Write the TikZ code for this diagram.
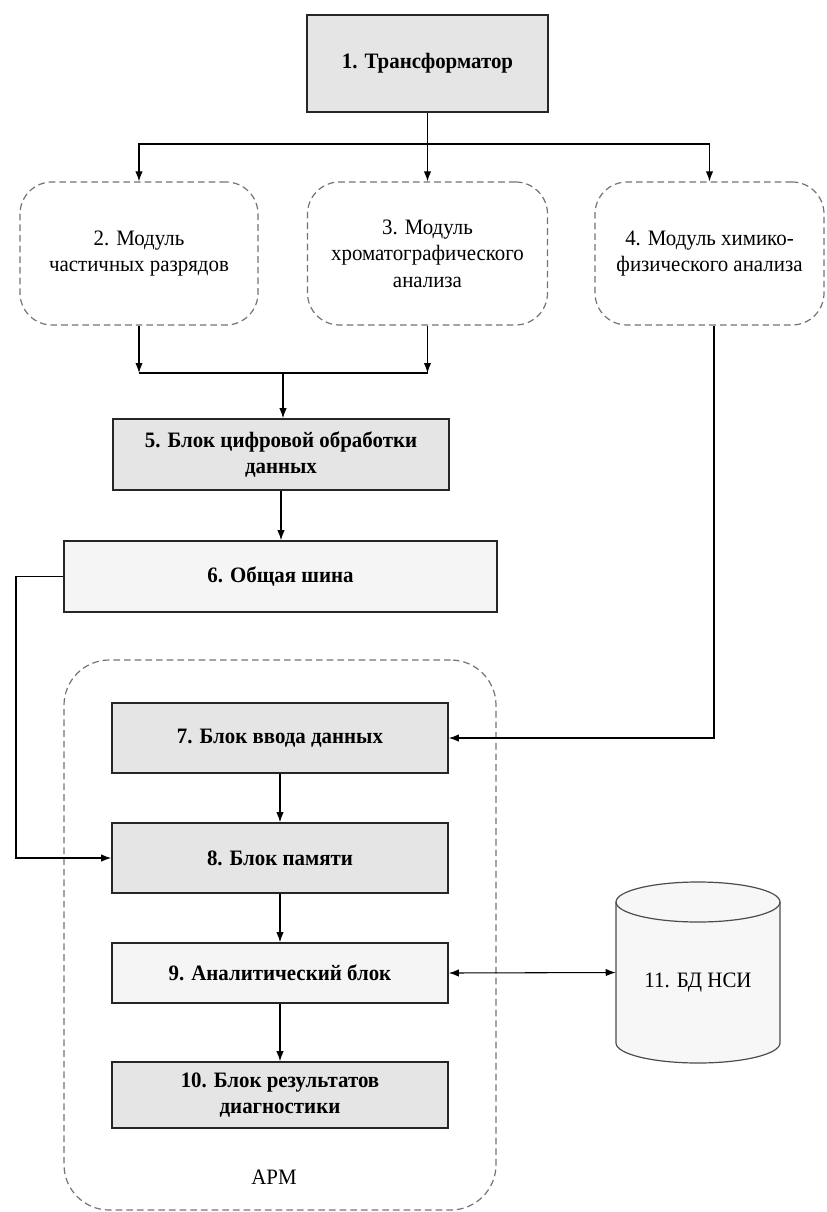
\documentclass[tikz,border=0pt]{standalone}
\usepackage{fontspec}
\setmainfont{Liberation Serif}[FakeStretch=0.95]
\usetikzlibrary{arrows.meta}
\begin{document}
\begin{tikzpicture}[x=0.75pt,y=-0.75pt,
  font=\fontsize{16.5pt}{20pt}\selectfont,
  shaded/.style={draw=black!85, line width=1.2pt, fill=black!10, align=center, inner sep=2pt, font=\fontsize{16.5pt}{20pt}\selectfont\bfseries},
  light/.style={shaded, fill=black!4},
  module/.style={draw=black!55, dash pattern=on 5pt off 3pt, line width=0.9pt, rounded corners=24pt, align=center, inner sep=2pt},
  arr/.style={-{Latex[length=7.5pt,width=5.5pt]}, line width=0.8pt},
  ln/.style={line width=0.8pt}
]
\useasboundingbox (0,0) rectangle (827,1212);
% container
\node[draw=black!55, dash pattern=on 5pt off 3pt, line width=0.9pt, rounded corners=34pt, minimum width=324pt, minimum height=412.5pt] (arm) at (280,935) {};
\node (armlabel) at (274,1177) {АРМ};
% boxes
\node[shaded, minimum width=180.75pt, minimum height=72.75pt] (b1) at (427.5,63.5) {1. Трансформатор};
\node[module, minimum width=178.5pt, minimum height=107.25pt] (b2) at (139,253.5) {2. Модуль\\частичных разрядов};
\node[module, minimum width=180pt, minimum height=107.25pt] (b3) at (427.5,253.5) {3. Модуль\\хроматографического\\анализа};
\node[module, minimum width=171.75pt, minimum height=107.25pt] (b4) at (709.5,253.5) {4. Модуль химико-\\физического анализа};
\node[shaded, minimum width=252pt, minimum height=53.25pt] (b5) at (281,454.5) {5. Блок цифровой обработки\\данных};
\node[light, minimum width=324.75pt, minimum height=53.25pt] (b6) at (280.5,576.5) {6. Общая шина};
\node[shaded, minimum width=252pt, minimum height=52.5pt] (b7) at (280,738) {7. Блок ввода данных};
\node[shaded, minimum width=252pt, minimum height=52.5pt] (b8) at (280,858) {8. Блок памяти};
\node[light, minimum width=252pt, minimum height=45pt] (b9) at (280,973) {9. Аналитический блок};
\node[shaded, minimum width=252pt, minimum height=49.5pt] (b10) at (280,1095) {10. Блок результатов\\диагностики};
% cylinder
\node[minimum width=123pt, minimum height=135.75pt, inner sep=0pt] (db) at (698,972.5) {};
\draw[draw=black!70, line width=0.9pt, fill=black!3]
  (616,902) -- (616,1043) arc[start angle=180, end angle=360, x radius=82, y radius=-20]
  -- (780,902) arc[start angle=0, end angle=180, x radius=82, y radius=-20] -- cycle;
\draw[draw=black!70, line width=0.9pt] (616,902) arc[start angle=180, end angle=360, x radius=82, y radius=-20];
\node (dblabel) at (698,983) {11. БД НСИ};
% connectors
\coordinate (hub) at (427.5,144);
\coordinate (m2) at (139,373);
\coordinate (m3) at (427.5,373);
\coordinate (mj) at (283,373);
\draw[ln] (b1.south) -- (hub);
\draw[arr] (hub) -| (b2.north);
\draw[arr] (hub) -- (b3.north);
\draw[arr] (hub) -| (b4.north);
\draw[arr] (b2.south) -- (m2);
\draw[arr] (b3.south) -- (m3);
\draw[ln] (m2) -- (m3);
\draw[arr] (mj) -- (mj |- b5.north);
\draw[arr] (b5.south) -- (b5.south |- b6.north);
\coordinate (l1) at (16,576.5);
\draw[arr] (b6.west) -- (l1) |- (b8.west);
\coordinate (r1) at (714,738);
\draw[arr] (b4.south -| r1) -- (r1) -- (b7.east);
\draw[arr] (b7.south) -- (b8.north);
\draw[arr] (b8.south) -- (b9.north);
\draw[arr] (b9.south) -- (b10.north);
\draw[{Latex[length=7.5pt,width=5.5pt]}-{Latex[length=7.5pt,width=5.5pt]}, line width=0.8pt] (b9.east) -- (db.west);
\end{tikzpicture}
\end{document}
